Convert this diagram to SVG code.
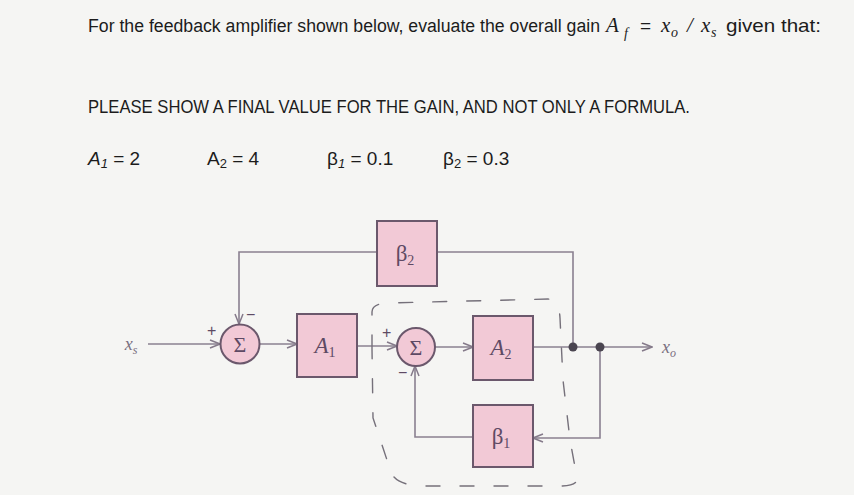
<svg xmlns="http://www.w3.org/2000/svg" width="854" height="495" viewBox="0 0 854 495">
<style>
.t{font-family:"Liberation Sans",Arial,sans-serif;font-size:19px;fill:#1c1c1c}
.m{font-family:"Liberation Serif","Times New Roman",serif;font-style:italic;fill:#1c1c1c;font-size:21px}
.ln{fill:none;stroke:#8a8090;stroke-width:1.6}
.box{fill:#f2c9d6;stroke:#6b586c;stroke-width:2}
.lab{font-family:"Liberation Serif","Times New Roman",serif;fill:#5e4a64;text-anchor:middle}
.it{font-style:italic}
.sg{font-family:"Liberation Sans",Arial,sans-serif;fill:#5e4a64}
.dot{fill:#4a4550}
.dash{fill:none;stroke:#75707a;stroke-width:1.4;stroke-dasharray:14 20;stroke-linecap:round}
</style>
<defs>
<marker id="arr" viewBox="0 0 12 10" refX="11" refY="5" markerWidth="12" markerHeight="10" markerUnits="userSpaceOnUse" orient="auto">
<path d="M1,1 L11,5 L1,9" fill="none" stroke="#857a8a" stroke-width="1.5"/>
</marker>
</defs>
<rect width="854" height="495" fill="#f5f5f3"/>

<g id="text">
<text class="t" x="88" y="32" style="font-size:17.6px" textLength="512" lengthAdjust="spacingAndGlyphs">For the feedback amplifier shown below, evaluate the overall gain</text>
<text class="m"><tspan x="606" y="32">A</tspan><tspan x="624" y="38" style="font-size:14px">f</tspan><tspan x="640" y="32" style="font-family:'Liberation Sans',Arial,sans-serif;font-style:normal;font-size:19px">=</tspan><tspan x="661" y="32">x</tspan><tspan x="671" y="37" style="font-size:14px">o</tspan><tspan x="687" y="32">/</tspan><tspan x="701" y="32">x</tspan><tspan x="711" y="37" style="font-size:14px">s</tspan></text>
<text class="t" x="726" y="32" textLength="95" lengthAdjust="spacingAndGlyphs">given that:</text>

<text class="t" x="88" y="113" textLength="602" lengthAdjust="spacingAndGlyphs">PLEASE SHOW A FINAL VALUE FOR THE GAIN, AND NOT ONLY A FORMULA.</text>

<text class="t" x="88" y="165"><tspan font-style="italic">A</tspan><tspan style="font-size:13px;font-style:italic" dy="3">1</tspan><tspan dy="-3"> = 2</tspan></text>
<text class="t" x="207" y="165">A<tspan style="font-size:13px" dy="3">2</tspan><tspan dy="-3"> = 4</tspan></text>
<text class="t" x="327" y="165">β<tspan style="font-size:13px;font-style:italic" dy="3">1</tspan><tspan dy="-3"> = 0.1</tspan></text>
<text class="t" x="443" y="165">β<tspan style="font-size:13px" dy="3">2</tspan><tspan dy="-3"> = 0.3</tspan></text>
</g>

<g id="connectors">
<path class="ln" d="M148,344 H220" marker-end="url(#arr)"/>
<path class="ln" d="M259.5,344 H297" marker-end="url(#arr)"/>
<path class="ln" d="M357,346 H397" marker-end="url(#arr)"/>
<path class="ln" d="M435,347 H473" marker-end="url(#arr)"/>
<path class="ln" d="M533,347 H652" marker-end="url(#arr)"/>
<path class="ln" d="M573,347 V252 H437"/>
<path class="ln" d="M377,252 H239 V324" marker-end="url(#arr)"/>
<path class="ln" d="M600,347 V438 H533" marker-end="url(#arr)"/>
<path class="ln" d="M473,437 H415 V366" marker-end="url(#arr)"/>
<path class="dash" d="M372,349 L372,312 Q372,303 390,303 L548,299 Q559,300 560,318 L563,380 L570,440 L577,478 Q578,486 560,486 L426,486 Q396,486 391,472 L373,418 Z"/>
</g>

<g id="xs"><text class="lab it" x="131" y="350" style="font-size:18px;fill:#7a7080">x<tspan style="font-size:12px" dy="4">s</tspan></text></g>
<g id="xo"><text class="lab it" x="669" y="353" style="font-size:18px;fill:#7a7080">x<tspan style="font-size:12px" dy="4">o</tspan></text></g>

<g id="sum1">
<circle class="box" cx="240" cy="344" r="19.5"/>
<text class="lab" x="240" y="351.5" style="font-size:22px">Σ</text>
<text class="sg" x="207" y="336" style="font-size:16px">+</text>
<text class="sg" x="246" y="320" style="font-size:16px">−</text>
</g>

<g id="sum2">
<circle class="box" cx="416" cy="347" r="19"/>
<text class="lab" x="416" y="354.5" style="font-size:22px">Σ</text>
<text class="sg" x="382" y="338" style="font-size:16px">+</text>
<text class="sg" x="398" y="378" style="font-size:16px">−</text>
</g>

<g id="A1">
<rect class="box" x="297" y="314" width="60" height="63"/>
<text class="lab" x="325" y="353" style="font-size:23px"><tspan class="it">A</tspan><tspan style="font-size:14px" dy="4">1</tspan></text>
</g>

<g id="A2">
<rect class="box" x="473" y="316" width="60" height="64"/>
<text class="lab" x="501" y="355" style="font-size:23px"><tspan class="it">A</tspan><tspan style="font-size:14px" dy="4">2</tspan></text>
</g>

<g id="beta2">
<rect class="box" x="377" y="221" width="60" height="65"/>
<text class="lab" x="405" y="261" style="font-size:23px">β<tspan style="font-size:14px" dy="4">2</tspan></text>
</g>

<g id="beta1">
<rect class="box" x="473" y="405" width="60" height="62"/>
<text class="lab" x="501" y="444" style="font-size:23px">β<tspan style="font-size:14px" dy="4">1</tspan></text>
</g>

<g id="nodes-dots">
<circle class="dot" cx="573" cy="347" r="4.5"/>
<circle class="dot" cx="600" cy="347" r="4.5"/>
</g>
</svg>
